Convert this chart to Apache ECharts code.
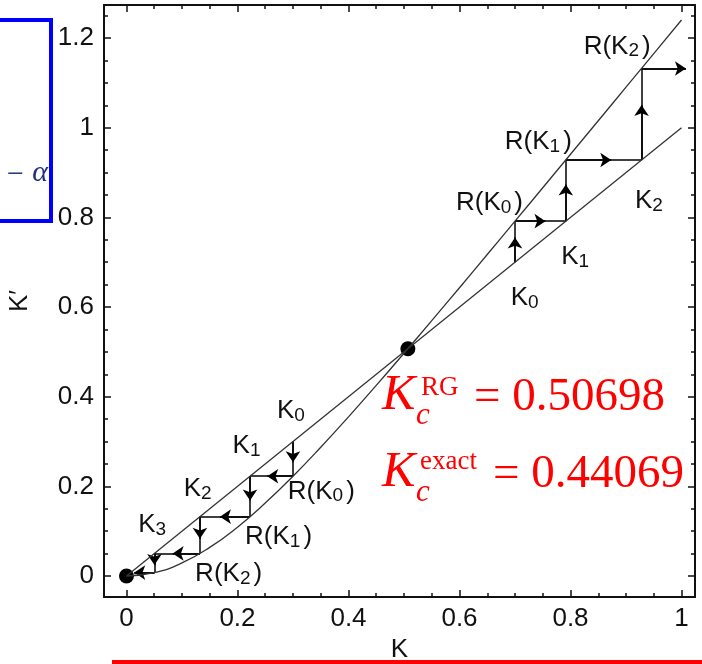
<!DOCTYPE html>
<html><head><meta charset="utf-8">
<script src="https://cdn.jsdelivr.net/npm/echarts@6/dist/echarts.min.js"></script>
<style>html,body{margin:0;padding:0;background:#fff}#c{width:702px;height:664px}</style>
</head><body><div id="c"></div>
<script>
// ---- data ----
const kGrid = [0,0.05,0.1,0.15,0.2,0.25,0.3,0.35,0.4,0.45,0.5,0.55,0.6,0.65,0.7,0.75,0.8,0.85,0.9,0.95,1.0];
const rOfK  = [0,0.0075,0.0292,0.0638,0.1090,0.1627,0.2226,0.2872,0.3551,0.4252,0.4969,0.5697,0.6431,0.7171,0.7915,0.8660,0.9407,1.0155,1.0904,1.1652,1.2402];
const diagonalK = [0, 1];
const fixedPointK = [0, 0.50698];
const flowUp = [[0.70,0.70],[0.70,0.7915],[0.7915,0.7915],[0.7915,0.928],[0.928,0.928],[0.928,1.132],[1.008,1.132]];
const flowDown = [[0.30,0.30],[0.30,0.2226],[0.2226,0.2226],[0.2226,0.1323],[0.1323,0.1323],[0.1323,0.0504],[0.0504,0.0504],[0.0504,0.0076],[0.014,0.0076]];
const xMajorTicks = [0,0.2,0.4,0.6,0.8,1];
const xMinorTicks = [0.05,0.1,0.15,0.25,0.3,0.35,0.45,0.5,0.55,0.65,0.7,0.75,0.85,0.9,0.95];
const yMajorTicks = [0,0.2,0.4,0.6,0.8,1,1.2];
const yMinorTicks = [0.05,0.1,0.15,0.25,0.3,0.35,0.45,0.5,0.55,0.65,0.7,0.75,0.85,0.9,0.95,1.05,1.1,1.15,1.25];
const labelTexts = ['R(K{s|2})','R(K{s|1})','R(K{s|0})','K{s|2}','K{s|1}','K{s|0}',
                    'K{s|0}','K{s|1}','K{s|2}','K{s|3}','R(K{s|0})','R(K{s|1})','R(K{s|2})'];
const kcRGValue = '0.50698';
const kcExactValue = '0.44069';
const xName = 'K', yName = 'K\u2032';

// ---- chart ----
const chart = echarts.init(document.getElementById('c'), null, {renderer:'canvas'});
const X_MIN = -0.0405, X_MAX = 1.0243, Y_MIN = -0.0468, Y_MAX = 1.2737;
const sans = '"Liberation Sans", Arial, Helvetica, sans-serif';
const serif = '"Liberation Serif", "Times New Roman", serif';
const tickColor = '#111';

function xAx(pos, ticks, len, withLabel, showLine) {
  return {
    type:'value', position:pos, min:X_MIN, max:X_MAX, offset:0,
    axisLine:{show:showLine, onZero:false, lineStyle:{color:'#111', width:2}},
    axisTick:{show:true, inside:true, length:len, customValues:ticks, lineStyle:{color:'#111', width:1.5}},
    axisLabel:{show:withLabel, customValues:ticks, fontSize:26, fontFamily:sans, color:tickColor, margin:9},
    splitLine:{show:false},
    name: withLabel ? xName : '', nameLocation:'middle', nameGap:38,
    nameTextStyle:{fontSize:26, fontFamily:sans, color:tickColor}
  };
}
function yAx(pos, ticks, len, withLabel, showLine) {
  return {
    type:'value', position:pos, min:Y_MIN, max:Y_MAX, offset:0,
    axisLine:{show:showLine, onZero:false, lineStyle:{color:'#111', width:2}},
    axisTick:{show:true, inside:true, length:len, customValues:ticks, lineStyle:{color:'#111', width:1.5}},
    axisLabel:{show:withLabel, customValues:ticks, fontSize:26, fontFamily:sans, color:tickColor, margin:10},
    splitLine:{show:false},
    name: withLabel ? yName : '', nameLocation:'middle', nameGap:71, nameRotate:90,
    nameTextStyle:{fontSize:26, fontFamily:sans, color:tickColor}
  };
}

function segmentsOf(path) {
  const out = [];
  for (let i = 0; i < path.length - 1; i++) out.push([path[i], path[i+1]]);
  return out;
}
const upSegs = segmentsOf(flowUp), downSegs = segmentsOf(flowDown);
const allSegs = upSegs.concat(downSegs);
function arrowPart(seg, isLast) {
  const f = isLast ? 1 : 0.6;
  const p = seg[0], q = seg[1];
  return {coords:[p, [p[0] + f*(q[0]-p[0]), p[1] + f*(q[1]-p[1])]]};
}
const arrowData = upSegs.map((s,i)=>arrowPart(s, i===upSegs.length-1))
  .concat(downSegs.map((s,i)=>arrowPart(s, i===downSegs.length-1)));

const labelAnchors = [[0.884,1.181],[0.742,0.968],[0.654,0.832],[0.944,0.837],[0.811,0.712],[0.720,0.620],
                      [0.299,0.368],[0.219,0.290],[0.131,0.194],[0.049,0.114],[0.351,0.188],[0.274,0.087],[0.184,0.005]];

const option = {
  animation:false,
  backgroundColor:'#fff',
  grid:{left:104, top:5, width:591, height:592, containLabel:false, outerBoundsMode:'none'},
  xAxis:[ xAx('bottom', xMajorTicks, 7, true, true), xAx('bottom', xMinorTicks, 4, false, false),
          xAx('top', xMajorTicks, 7, false, true),   xAx('top', xMinorTicks, 4, false, false) ],
  yAxis:[ yAx('left', yMajorTicks, 7, true, true),   yAx('left', yMinorTicks, 4, false, false),
          yAx('right', yMajorTicks, 7, false, true), yAx('right', yMinorTicks, 4, false, false) ],
  series:[
    {type:'line', name:'R(K)', data:kGrid.map((k,i)=>[k, rOfK[i]]), smooth:true, showSymbol:false, silent:true,
     lineStyle:{color:'#333', width:1.3}},
    {type:'line', name:'K', data:diagonalK.map(k=>[k,k]), showSymbol:false, silent:true,
     lineStyle:{color:'#333', width:1.3}},
    {type:'lines', coordinateSystem:'cartesian2d', xAxisIndex:0, yAxisIndex:0, silent:true,
     data:allSegs.map(s=>({coords:s})), symbol:['none','none'],
     lineStyle:{color:'#000', width:1.5, opacity:1}},
    {type:'lines', coordinateSystem:'cartesian2d', xAxisIndex:0, yAxisIndex:0, silent:true,
     data:arrowData, symbol:['none','arrow'], symbolSize:11,
     lineStyle:{color:'#000', width:1.5, opacity:1}, itemStyle:{color:'#000'}},
    {type:'scatter', data:fixedPointK.map(k=>[k,k]), symbolSize:15, silent:true, itemStyle:{color:'#000', opacity:1}},
    {type:'scatter', silent:true, symbolSize:0, itemStyle:{color:'#000', opacity:1},
     data:labelTexts.map((t,i)=>({value:labelAnchors[i], label:{formatter:t}})),
     label:{show:true, position:'inside', align:'center', verticalAlign:'middle',
            fontSize:26, lineHeight:28, fontFamily:sans, color:'#111', opacity:1,
            rich:{s:{fontSize:19, lineHeight:19, verticalAlign:'bottom', fontFamily:sans, color:'#111', padding:[0,3,0,0]}}}}
  ],
  graphic:[
    {type:'rect', shape:{x:-10, y:20, width:61, height:201}, style:{fill:'none', stroke:'#0000ff', lineWidth:4}},
    {type:'text', style:{text:'\u2212', x:24, y:175, align:'right', verticalAlign:'middle', font:'30px ' + serif, fill:'#23307a'}},
    {type:'text', style:{text:'\u03b1', x:48, y:173, align:'right', verticalAlign:'middle', font:'italic 30px ' + serif, fill:'#23307a'}},
    {type:'rect', shape:{x:112, y:660, width:590, height:4}, style:{fill:'#ff0000'}},
    {type:'text', style:{text:'K', x:382, y:396, verticalAlign:'middle', font:'italic 50px ' + serif, fill:'#ff0000'}},
    {type:'text', style:{text:'c', x:416, y:416, verticalAlign:'middle', font:'italic 31px ' + serif, fill:'#ff0000'}},
    {type:'text', style:{text:'RG', x:421, y:388, verticalAlign:'middle', font:'27px ' + serif, fill:'#ff0000'}},
    {type:'text', style:{text:'= ' + kcRGValue, x:474, y:398, verticalAlign:'middle', font:'47px ' + serif, fill:'#ff0000'}},
    {type:'text', style:{text:'K', x:382, y:473, verticalAlign:'middle', font:'italic 50px ' + serif, fill:'#ff0000'}},
    {type:'text', style:{text:'c', x:416, y:493, verticalAlign:'middle', font:'italic 31px ' + serif, fill:'#ff0000'}},
    {type:'text', style:{text:'exact', x:420, y:462, verticalAlign:'middle', font:'27px ' + serif, fill:'#ff0000'}},
    {type:'text', style:{text:'= ' + kcExactValue, x:493, y:475, verticalAlign:'middle', font:'47px ' + serif, fill:'#ff0000'}}
  ]
};
chart.setOption(option);
</script></body></html>
